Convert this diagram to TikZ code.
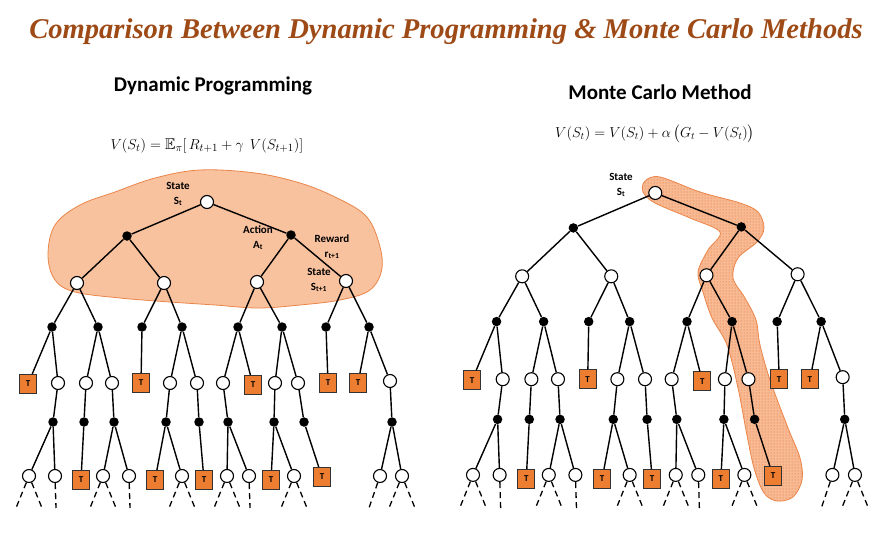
\documentclass[tikz,border=0pt]{standalone}
\usepackage{amsmath,amssymb}
\usepackage{fontspec}
\usepackage{xcolor}
\usepackage{tikz}
\usetikzlibrary{patterns}
\newfontfamily\titlefont{Liberation Serif}
\newfontfamily\calfont{Carlito}
\definecolor{titlebrown}{RGB}{158,74,22}
\definecolor{blobfill}{RGB}{249,194,158}
\definecolor{blobline}{RGB}{234,133,74}
\definecolor{pathbase}{RGB}{247,186,148}
\definecolor{pathdots}{RGB}{230,105,35}
\definecolor{termfill}{RGB}{237,125,49}

\begin{document}
\begin{tikzpicture}[x=1pt, y=-1pt,
      st/.style={circle, draw, fill=white, line width=1.1pt, minimum size=13pt, inner sep=0pt},
      act/.style={circle, fill=black, minimum size=9.5pt, inner sep=0pt},
      term/.style={rectangle, draw=black!80, fill=termfill, line width=1pt, minimum width=17pt,
        minimum height=19pt, inner sep=0pt, font=\calfont\bfseries\fontsize{9}{9}\selectfont},
      lnk/.style={line width=1.4pt},
      leafdash/.style={line width=1.3pt, dash pattern=on 6pt off 4pt},
      lbl/.style={font=\calfont\bfseries\fontsize{11}{14.5}\selectfont, align=center},
      head/.style={font=\calfont\bfseries\fontsize{21}{23}\selectfont}]
    \useasboundingbox (0,0) rectangle (883,543);

    % title, headings, update rules
    \node[font=\titlefont\bfseries\itshape\fontsize{28.6}{30}\selectfont, text=titlebrown] (title) at (446,32)
      {Comparison Between Dynamic Programming \& Monte Carlo Methods};
    \node[head] (dpHead) at (213,86) {Dynamic Programming};
    \node[head] (mcHead) at (660,92) {Monte Carlo Method};
    \node[font=\fontsize{15.7}{17}\selectfont] (dpEq) at (207,146)
      {$V(S_t)=\mathbb{E}_\pi[\,R_{t+1}+\gamma\;\,V(S_{t+1})]$};
    \node[font=\fontsize{14.9}{16}\selectfont] (mcEq) at (655,134)
      {$V(S_t)=V(S_t)+\alpha\,\big(G_t-V(S_t)\big)$};

    % full backup of DP
    \draw[blobline, fill=blobfill, line width=0.8pt] plot[smooth cycle, tension=0.6] coordinates {
      (200,170) (255,173) (300,183) (335,197) (365,215) (378,240) (382,268) (370,290)
      (340,300) (300,305) (258,308) (215,305) (170,302) (120,298) (75,292) (55,280)
      (48,255) (55,225) (80,205) (115,192) (155,178)};
    % one sampled episode of MC
    \draw[blobline, preaction={fill=pathbase}, pattern=dots, pattern color=pathdots, line width=0.8pt]
      plot[smooth cycle, tension=0.55] coordinates {
      (645,181) (660,177) (700,192) (740,203) (758,212) (764,228) (757,242) (738,258)
      (733,278) (745,298) (756,320) (760,345) (770,380) (788,428) (800,458) (802,480)
      (793,497) (777,501) (764,493) (754,468) (746,430) (738,388) (727,345) (712,318)
      (703,292) (698,272) (708,250) (720,232) (690,218) (655,203) (643,192)};

    \foreach \p/\sx/\sy/\dx/\dy in {L/1/1/0/0, R/1.024/1.029/443.3/-14.9} {
    \begin{scope}[shift={(\dx,\dy)}, xscale=\sx, yscale=\sy]
      \node[st]  (\p-r)  at (207,202) {};
      \node[act] (\p-a1) at (127,236) {};
      \node[act] (\p-a2) at (291,235) {};
      \node[st]  (\p-s1) at (77,283)  {};
      \node[st]  (\p-s2) at (164,283) {};
      \node[st]  (\p-s3) at (257,282) {};
      \node[st]  (\p-s4) at (346,281) {};
      % actions
      \node[act] (\p-b1) at (52,327)  {};
      \node[act] (\p-b2) at (98,327)  {};
      \node[act] (\p-b3) at (142,327) {};
      \node[act] (\p-b4) at (182,327) {};
      \node[act] (\p-b5) at (238,327) {};
      \node[act] (\p-b6) at (282,327) {};
      \node[act] (\p-b7) at (326,327) {};
      \node[act] (\p-b8) at (369,327) {};
      % states
      \node[term] (\p-c1)  at (28,384)  {T};
      \node[st]   (\p-c2)  at (58,383)  {};
      \node[st]   (\p-c3)  at (86,383)  {};
      \node[st]   (\p-c4)  at (112,383) {};
      \node[term] (\p-c5)  at (141,383) {T};
      \node[st]   (\p-c6)  at (170,383) {};
      \node[st]   (\p-c7)  at (197,383) {};
      \node[st]   (\p-c8)  at (223,383) {};
      \node[term] (\p-c9)  at (253,385) {T};
      \node[st]   (\p-c10) at (275,383) {};
      \node[st]   (\p-c11) at (298,383) {};
      \node[term] (\p-c12) at (328,383) {T};
      \node[term] (\p-c13) at (358,383) {T};
      \node[st]   (\p-c14) at (390,381) {};
      % actions
      \node[act] (\p-d1) at (53,422)  {};
      \node[act] (\p-d2) at (84,422)  {};
      \node[act] (\p-d3) at (114,422) {};
      \node[act] (\p-d4) at (166,422) {};
      \node[act] (\p-d5) at (199,422) {};
      \node[act] (\p-d6) at (228,422) {};
      \node[act] (\p-d7) at (274,422) {};
      \node[act] (\p-d8) at (304,422) {};
      \node[act] (\p-d9) at (392,422) {};
      % states
      \node[st]   (\p-e1)  at (29,476)  {};
      \node[st]   (\p-e2)  at (55,476)  {};
      \node[term] (\p-e3)  at (81,480)  {T};
      \node[st]   (\p-e4)  at (103,476) {};
      \node[st]   (\p-e5)  at (129,476) {};
      \node[term] (\p-e6)  at (155,480) {T};
      \node[st]   (\p-e7)  at (182,476) {};
      \node[term] (\p-e8)  at (204,480) {T};
      \node[st]   (\p-e9)  at (227,476) {};
      \node[st]   (\p-e10) at (249,476) {};
      \node[term] (\p-e11) at (271,480) {T};
      \node[st]   (\p-e12) at (294,476) {};
      \node[term] (\p-e13) at (322,477) {T};
      \node[st]   (\p-e14) at (380,476) {};
      \node[st]   (\p-e15) at (402,476) {};

      \foreach \u/\v in {r/a1, r/a2, a1/s1, a1/s2, a2/s3, a2/s4,
          s1/b1, s1/b2, s2/b3, s2/b4, s3/b5, s3/b6, s4/b7, s4/b8,
          b1/c1, b1/c2, b2/c3, b2/c4, b3/c5, b4/c6, b4/c7, b5/c8, b5/c9,
          b6/c10, b6/c11, b7/c12, b8/c13, b8/c14,
          c2/d1, c3/d2, c4/d3, c6/d4, c7/d5, c8/d6, c10/d7, c11/d8, c14/d9,
          d1/e1, d1/e2, d2/e3, d3/e4, d3/e5, d4/e6, d4/e7, d5/e8,
          d6/e9, d6/e10, d7/e11, d7/e12, d8/e13, d9/e14, d9/e15}
        \draw[lnk] (\p-\u) -- (\p-\v);

      % unexpanded subtrees
      \foreach \n/\ox in {e1/-13, e1/13, e2/1, e4/-13, e4/13, e5/1, e7/-13, e7/13,
          e9/-13, e9/13, e10/1, e12/-13, e12/13, e14/-11, e15/-13, e15/13} {
        \path (\p-\n) ++(\ox,32) coordinate (\p-\n\ox);
        \draw[leafdash] (\p-\n) -- (\p-\n\ox);
      }
    \end{scope}
    }

    % labels
    \node[lbl] (lblSt)   at (178,194) {State\\S\textsubscript{t}};
    \node[lbl] (lblAct)  at (258,238) {Action\\A\textsubscript{t}};
    \node[lbl] (lblRew)  at (332,247) {Reward\\r\textsubscript{t+1}};
    \node[lbl] (lblNext) at (319,280) {State\\S\textsubscript{t+1}};
    \node[lbl] (lblMcSt) at (621,185) {State\\S\textsubscript{t}};
  \end{tikzpicture}
\end{document}
